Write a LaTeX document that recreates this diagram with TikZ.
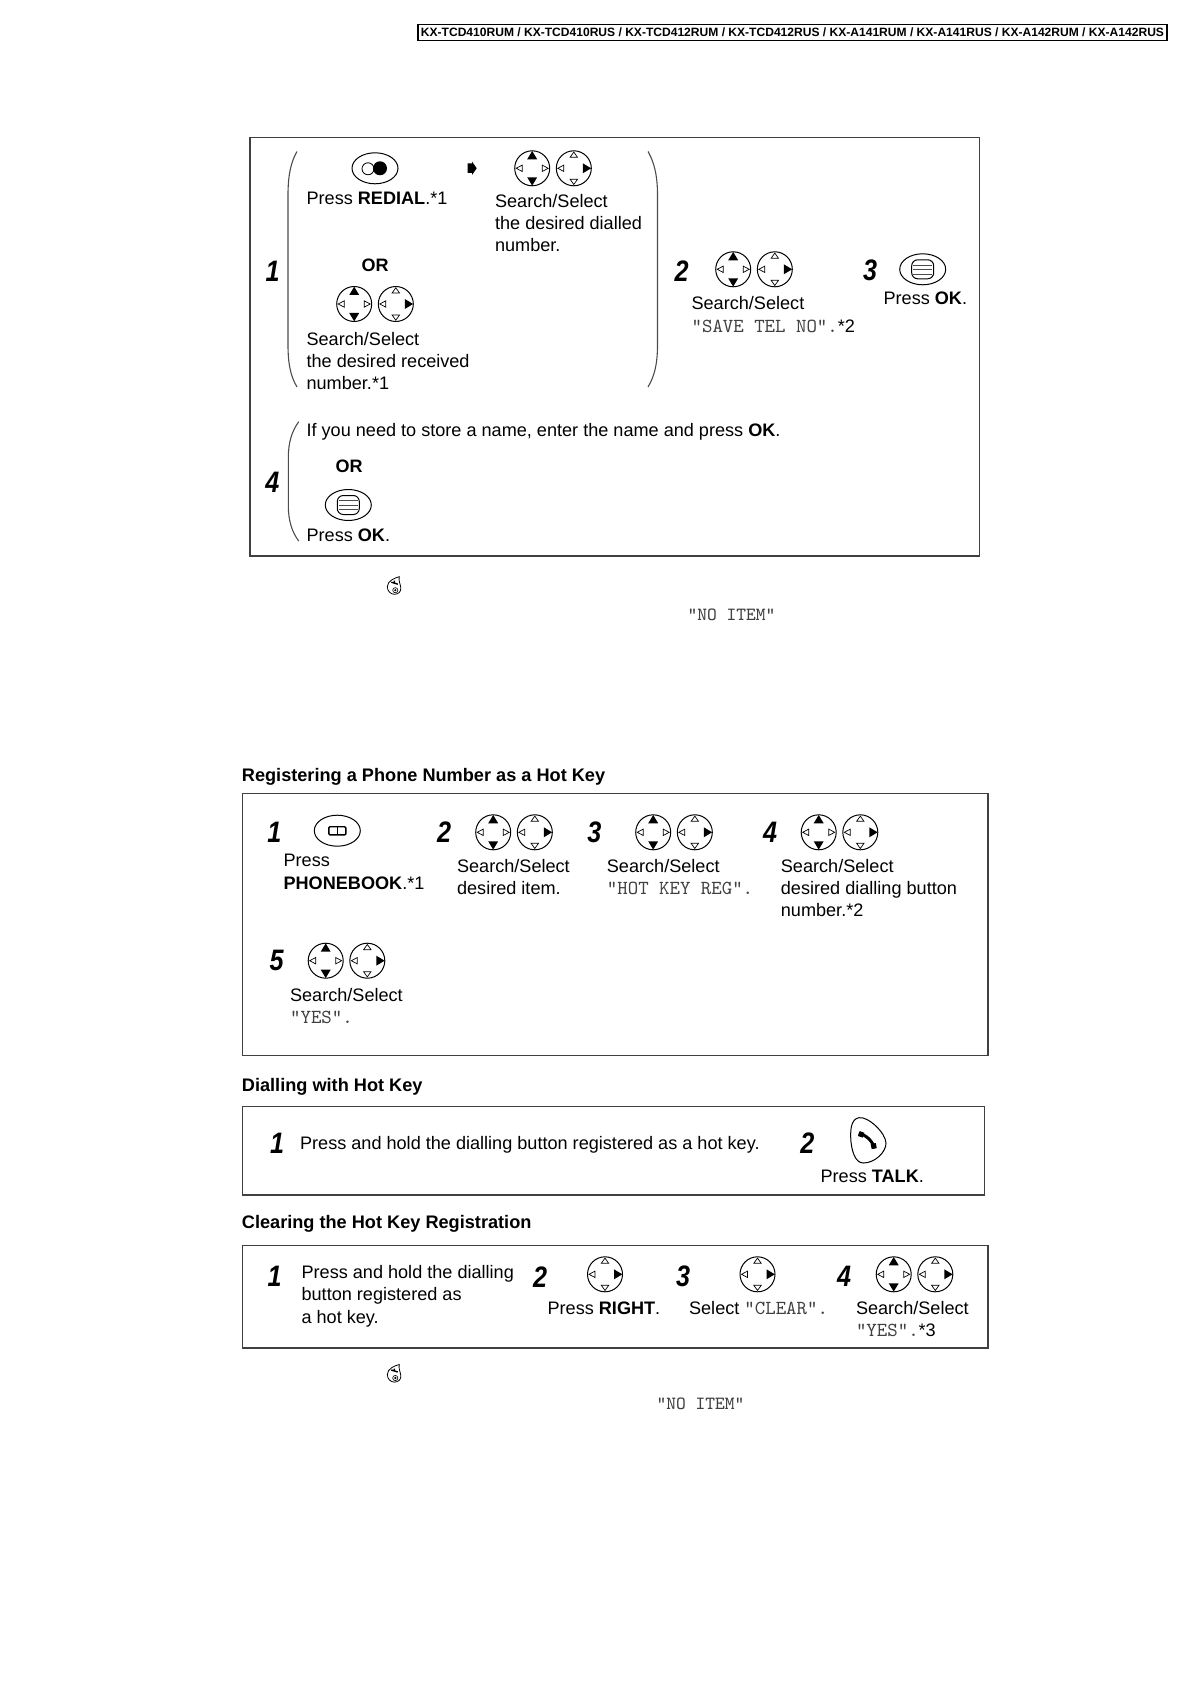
\documentclass[tikz,border=0pt]{standalone}
\usepackage{fontspec}
\usepackage{xcolor}
\setmainfont{Liberation Sans}
\newfontfamily\stepfont[FakeStretch=0.85]{Liberation Sans}
\newcommand{\lcd}[1]{{\fontsize{9.95}{11}\selectfont\ttfamily\color{black!75}#1}}
\newcommand{\lcdsmall}[1]{{\fontsize{9.3}{11}\selectfont\ttfamily\color{black!75}#1}}

\tikzset{
  txt/.style={anchor=north west,inner sep=0pt,align=left,xshift=-0.4pt,font=\fontsize{9.05}{11.15}\selectfont},
  oneline/.style={anchor=base west,inner sep=0pt,xshift=-0.4pt,font=\fontsize{9.05}{11.15}\selectfont},
  orlabel/.style={oneline,font=\fontsize{9}{11}\selectfont\bfseries},
  stepnum/.style={inner sep=0pt,font=\stepfont\fontsize{14.8}{16}\selectfont\bfseries\itshape},
  heading/.style={anchor=base west,inner sep=0pt,font=\fontsize{9.08}{11}\selectfont\bfseries},
  panel/.style={draw=black!75,line width=0.7pt},
  paren/.style={draw=black!70,line width=0.55pt},
  keyline/.style={draw=black,line width=0.5pt},
  navkeyleft/.pic={
    \draw[keyline] (0,0) circle (17.5);
    \fill (0,-17.3) -- (5,-9) -- (-5,-9) -- cycle;
    \fill (0,17.3) -- (5,9) -- (-5,9) -- cycle;
    \draw[line width=0.35pt] (-16,0) -- (-10,-3.2) -- (-10,3.2) -- cycle;
    \draw[line width=0.35pt] (16,0) -- (10,-3.2) -- (10,3.2) -- cycle;
  },
  navkeyright/.pic={
    \draw[keyline] (0,0) circle (17.5);
    \fill (17.3,0) -- (9,-5) -- (9,5) -- cycle;
    \draw[line width=0.35pt] (0,-16.2) -- (-3.7,-11) -- (3.7,-11) -- cycle;
    \draw[line width=0.35pt] (0,16.2) -- (-3.7,11) -- (3.7,11) -- cycle;
    \draw[line width=0.35pt] (-16,0) -- (-10,-3.2) -- (-10,3.2) -- cycle;
  },
  navpair/.pic={
    \pic at (-20.8,0) {navkeyleft};
    \pic at (20.8,0) {navkeyright};
  },
  okkey/.pic={
    \draw[keyline] (0,0) ellipse (23 and 15.5);
    \draw[keyline,rounded corners=3] (-11,-9.5) rectangle (11,9.5);
    \draw[draw=black!70,line width=0.25pt] (-9.5,-4.5) -- (9.5,-4.5) (-9.5,0) -- (9.5,0) (-9.5,4.5) -- (9.5,4.5);
  },
  redialkey/.pic={
    \draw[keyline] (0,0) ellipse (23 and 15.5);
    \draw[line width=0.4pt] (-7,0.5) circle (6);
    \fill (5,0) circle (7);
  },
  bookkey/.pic={
    \draw[keyline] (0,0) ellipse (23 and 15.5);
    \draw[line width=0.7pt,rounded corners=0.6] (-8.5,-4) rectangle (8.5,4.2);
    \draw[line width=0.7pt] (0,-4) -- (0,4.2);
  },
  endkey/.pic={
    \draw[line width=0.4pt] (5,-9) .. controls (1,-8) and (-7,-5) .. (-7,1) .. controls (-7,6) and (-3,8.6) .. (0,8.6)
      .. controls (4,8.6) and (7,6) .. (6.5,2) .. controls (6,-2) and (4,-5) .. (5,-9) -- cycle;
    \draw[line width=0.7pt] (-3,-3.5) -- (3.5,-1.5) (0,-5) -- (0,-2);
    \draw[line width=0.3pt] (1,4.5) circle (2.6) (1,4.5) circle (0.8);
  },
  talkkey/.pic={
    \draw[keyline] (858.9,1117.7) .. controls (851,1119) and (850.5,1130) .. (850.7,1137)
      .. controls (851,1150) and (855,1163) .. (863.3,1163)
      .. controls (875,1163) and (886,1152) .. (886,1143.3)
      .. controls (886,1133) and (868,1116) .. (858.9,1117.7) -- cycle;
    \draw[line width=1.5pt] (858.8,1133.5) .. controls (866,1134.5) and (873.5,1142) .. (874.2,1148.5);
    \draw[line width=2.6pt] (858.8,1133.5) -- (863.5,1135.2) (873.2,1143.5) -- (874.2,1148.5);
  }
}

\begin{document}
\begin{tikzpicture}[x=0.5pt, y=-0.5pt]
  \useasboundingbox (0,0) rectangle (1190,1684);

  % ---- Model strip ----
  \draw[draw=black,line width=0.9pt] (418,24.5) rectangle (1167,40.5);
  \node[inner sep=0pt,font=\fontsize{6.03}{7}\selectfont\bfseries] (models) at (792.5,32.5)
    {KX-TCD410RUM / KX-TCD410RUS / KX-TCD412RUM / KX-TCD412RUS / KX-A141RUM / KX-A141RUS / KX-A142RUM / KX-A142RUS};

  % ---- First panel ----
  \draw[panel] (250,137.5) rectangle (979.5,556);

  % Step 1, between round brackets
  \node[stepnum] (firstOne) at (272.5,271.5) {1};
  \draw[paren] (297,151.5) .. controls (291,162) and (288,175) .. (288,195) -- (288,345)
    .. controls (288,365) and (291,377) .. (297,387);
  \draw[paren] (648,151.5) .. controls (654,162) and (657.5,175) .. (657.5,195) -- (657.5,345)
    .. controls (657.5,365) and (654,377) .. (648,387);
  \pic at (375,168.3) {redialkey};
  \node[oneline] (redialText) at (307,205) {Press \textbf{REDIAL}.*1};
  \fill (476.7,168.3) -- (472,161.5) -- (472,163.5) -- (467.7,163.5) -- (467.7,173) -- (472,173) -- (472,175) -- cycle;
  \pic at (553,168.3) {navpair};
  \node[txt] (dialledText) at (495.5,193.5) {Search/Select\\the desired dialled\\number.};
  \node[orlabel] (orOne) at (362,271.5) {OR};
  \pic at (375,304) {navpair};
  \node[txt] (receivedText) at (307,331.5) {Search/Select\\the desired received\\number.*1};

  % Step 2
  \node[stepnum] (firstTwo) at (681.5,271) {2};
  \pic at (754,269.3) {navpair};
  \node[txt] (saveText) at (692,295.5) {Search/Select\\[0.4pt]\lcd{"SAVE TEL NO".}*2};

  % Step 3
  \node[stepnum] (firstThree) at (870,270.5) {3};
  \pic at (922.7,269.3) {okkey};
  \node[oneline] (okTextA) at (884,305) {Press \textbf{OK}.};

  % Step 4
  \node[stepnum] (firstFour) at (272.3,482.7) {4};
  \draw[paren] (298.7,421.7) .. controls (292,431) and (288.3,442) .. (288.3,458) -- (288.3,505)
    .. controls (288.3,521) and (292,532) .. (298.7,541);
  \node[oneline] (nameText) at (307,437) {If you need to store a name, enter the name and press \textbf{OK}.};
  \node[orlabel] (orTwo) at (336,472.7) {OR};
  \pic at (348.3,505) {okkey};
  \node[oneline] (okTextB) at (307,541.7) {Press \textbf{OK}.};

  % Below the first panel
  \pic at (394.3,585.7) {endkey};
  \node[oneline] (noItemA) at (688,620) {\lcdsmall{"NO ITEM"}};

  % ---- Registering ----
  \node[heading] (headReg) at (241.5,781) {Registering a Phone Number as a Hot Key};
  \draw[panel] (242.7,793.5) rectangle (988,1055.7);

  \node[stepnum] (regOne) at (274.3,832.3) {1};
  \pic at (337.3,830.7) {bookkey};
  \node[txt] (regOneText) at (284,854) {Press\\\textbf{PHONEBOOK}.*1};

  \node[stepnum] (regTwo) at (444,832.3) {2};
  \pic at (514,832.3) {navpair};
  \node[txt] (regTwoText) at (457.5,858.7) {Search/Select\\desired item.};

  \node[stepnum] (regThree) at (594.3,832.3) {3};
  \pic at (674,832.3) {navpair};
  \node[txt] (regThreeText) at (607.3,858.7) {Search/Select\\\lcd{"HOT KEY REG".}};

  \node[stepnum] (regFour) at (770,832.3) {4};
  \pic at (839.5,832.3) {navpair};
  \node[txt] (regFourText) at (781.3,858.7) {Search/Select\\desired dialling button\\number.*2};

  \node[stepnum] (regFive) at (276.7,960) {5};
  \pic at (346.5,960.7) {navpair};
  \node[txt] (regFiveText) at (290.5,987.7) {Search/Select\\\lcd{"YES".}};

  % ---- Dialling ----
  \node[heading] (headDial) at (241.5,1091) {Dialling with Hot Key};
  \draw[panel] (242.7,1106.5) rectangle (984.5,1195);

  \node[stepnum] (dialOne) at (277,1143.8) {1};
  \node[oneline] (dialOneText) at (300.5,1149) {Press and hold the dialling button registered as a hot key.};
  \node[stepnum] (dialTwo) at (807.3,1143.3) {2};
  \pic at (0,0) {talkkey};
  \node[oneline] (talkText) at (821,1182.7) {Press \textbf{TALK}.};

  % ---- Clearing ----
  \node[heading] (headClear) at (241.5,1228.6) {Clearing the Hot Key Registration};
  \draw[panel] (242.7,1245.5) rectangle (988,1347.8);

  \node[stepnum] (clearOne) at (274.5,1276.7) {1};
  \node[txt] (clearOneText) at (302,1265) {Press and hold the dialling\\button registered as\\a hot key.};

  \node[stepnum] (clearTwo) at (540,1276.7) {2};
  \pic at (605,1274.3) {navkeyright};
  \node[oneline] (clearTwoText) at (548,1314.3) {Press \textbf{RIGHT}.};

  \node[stepnum] (clearThree) at (683,1276.7) {3};
  \pic at (757.5,1274.3) {navkeyright};
  \node[oneline] (clearThreeText) at (689.5,1314.3) {Select \lcd{"CLEAR".}};

  \node[stepnum] (clearFour) at (844,1276.7) {4};
  \pic at (914.5,1274.3) {navpair};
  \node[txt] (clearFourText) at (856.4,1300.8) {Search/Select\\\lcd{"YES".}*3};

  % Below the last panel
  \pic at (394.3,1373.5) {endkey};
  \node[oneline] (noItemB) at (657,1409) {\lcdsmall{"NO ITEM"}};

\end{tikzpicture}
\end{document}
